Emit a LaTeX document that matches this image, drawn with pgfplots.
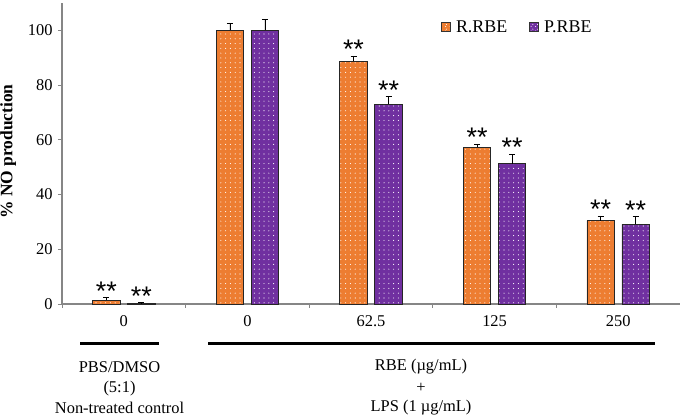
\documentclass[border=0pt]{standalone}
\usepackage{pgfplots}
\pgfplotsset{compat=1.18}
\usepackage{pgfplotstable}
\usepackage{fontspec}
\setmainfont{Liberation Serif}
\newfontfamily\starfont{Liberation Sans}
\usetikzlibrary{patterns.meta}
\definecolor{rorange}{HTML}{ED7D31}
\definecolor{ppurple}{HTML}{7030A0}
\definecolor{axgray}{HTML}{868686}

% orange bars sit left of each category centre, purple bars right of it
\pgfplotstableread{
x y err
0.8584 1.4 0.9
1.8584 100 2.7
2.8584 88.7 2.0
3.8584 57.2 1.2
4.8584 30.5 1.7
}\rdata
\pgfplotstableread{
x y err
1.1416 0.3 0.2
2.1416 100 4.1
3.1416 73.0 2.9
4.1416 51.2 3.6
5.1416 29.1 2.8
}\pdata
\pgfplotstableread{
x t
0.8584 2.3
2.8584 90.7
3.8584 58.4
4.8584 32.2
}\rstars
\pgfplotstableread{
x t
1.1416 0.5
3.1416 75.9
4.1416 54.8
5.1416 31.9
}\pstars

\begin{document}
\begin{tikzpicture}
\path[use as bounding box] (-62bp,-114bp) rectangle (618bp,304bp);
\begin{axis}[
  width=618bp, height=301bp, scale only axis,
  at={(0,0)}, anchor=south west,
  xmin=0.5, xmax=5.5, ymin=0, ymax=110,
  axis x line*=bottom, axis y line*=left,
  axis line style={axgray, line width=1.1bp},
  xtick={0.5,1.5,2.5,3.5,4.5,5.5}, xticklabels={},
  extra x ticks={1,2,3,4,5},
  extra x tick labels={0,0,62.5,125,250},
  extra x tick style={major tick length=0pt},
  xticklabel style={yshift=-8bp},
  yticklabel style={xshift=-2bp},
  ytick={0,20,40,60,80,100},
  tick align=outside, major tick length=4bp,
  tick style={axgray, line width=1bp},
  tick label style={font=\fontsize{16.5}{18}\selectfont},
  /pgf/number format/assume math mode=true,
  clip=false,
  legend style={draw=none, fill=none, at={(rel axis cs:0.6133,0.92)}, anchor=west,
    inner sep=0pt, nodes={inner sep=0pt, font=\fontsize{18}{20}\selectfont},
    /tikz/every odd column/.append style={column sep=5bp},
    /tikz/every even column/.append style={column sep=22bp}},
  legend columns=2, legend cell align=left,
]
\addplot[ybar, bar width=27.5bp, bar shift=0pt, fill=rorange, draw=black!85, line width=0.8bp,
  postaction={pattern={Dots[distance=4.8bp, radius=0.55bp]}, pattern color=white},
  legend image code/.code={\draw[fill=rorange, draw=black!80, line width=0.8bp,
     postaction={pattern={Dots[distance=4.5bp, radius=0.5bp]}, pattern color=white}]
     (0bp,-4.5bp) rectangle (9bp,4.5bp);},
  error bars/.cd, y dir=plus, y explicit, error bar style={black, line width=0.6bp},
  error mark options={rotate=90, black, line width=0.6bp, mark size=3bp}]
  table[x=x, y=y, y error=err] {\rdata};
\addlegendentry{R.RBE}
\addplot[ybar, bar width=27.5bp, bar shift=0pt, fill=ppurple, draw=black!85, line width=0.8bp,
  postaction={pattern={Dots[distance=4.8bp, radius=0.55bp]}, pattern color=white},
  legend image code/.code={\draw[fill=ppurple, draw=black!80, line width=0.8bp,
     postaction={pattern={Dots[distance=4.5bp, radius=0.5bp]}, pattern color=white}]
     (0bp,-4.5bp) rectangle (9bp,4.5bp);},
  error bars/.cd, y dir=plus, y explicit, error bar style={black, line width=0.6bp},
  error mark options={rotate=90, black, line width=0.6bp, mark size=3bp}]
  table[x=x, y=y, y error=err] {\pdata};
\addlegendentry{P.RBE}
\addplot[only marks, mark=none, forget plot,
  nodes near coords={**},
  nodes near coords style={font=\starfont\fontsize{27}{27}\selectfont, inner sep=0pt, anchor=south, yshift=-3bp, text=black}]
  table[x=x, y=t] {\rstars};
\addplot[only marks, mark=none, forget plot,
  nodes near coords={**},
  nodes near coords style={font=\starfont\fontsize{27}{27}\selectfont, inner sep=0pt, anchor=south, yshift=-3bp, text=black}]
  table[x=x, y=t] {\pstars};
\end{axis}
\node[rotate=90, anchor=base, font=\bfseries\fontsize{17.5}{20}\selectfont] at (-49.5bp,152.5bp) {\% NO production};
\draw[line width=2.5bp] (18bp,-39.5bp) -- (97bp,-39.5bp);
\draw[line width=2.5bp] (146bp,-39.5bp) -- (593bp,-39.5bp);
\begin{scope}[every node/.style={font=\fontsize{16.5}{18}\selectfont, inner sep=0pt}]
\node at (57.5bp,-63bp) {PBS/DMSO};
\node at (57.5bp,-84.5bp) {(5:1)};
\node at (57.5bp,-104bp) {Non-treated control};
\node at (359bp,-63bp) {RBE (µg/mL)};
\node at (359bp,-84bp) {+};
\node at (359bp,-104bp) {LPS (1 µg/mL)};
\end{scope}
\end{tikzpicture}
\end{document}
